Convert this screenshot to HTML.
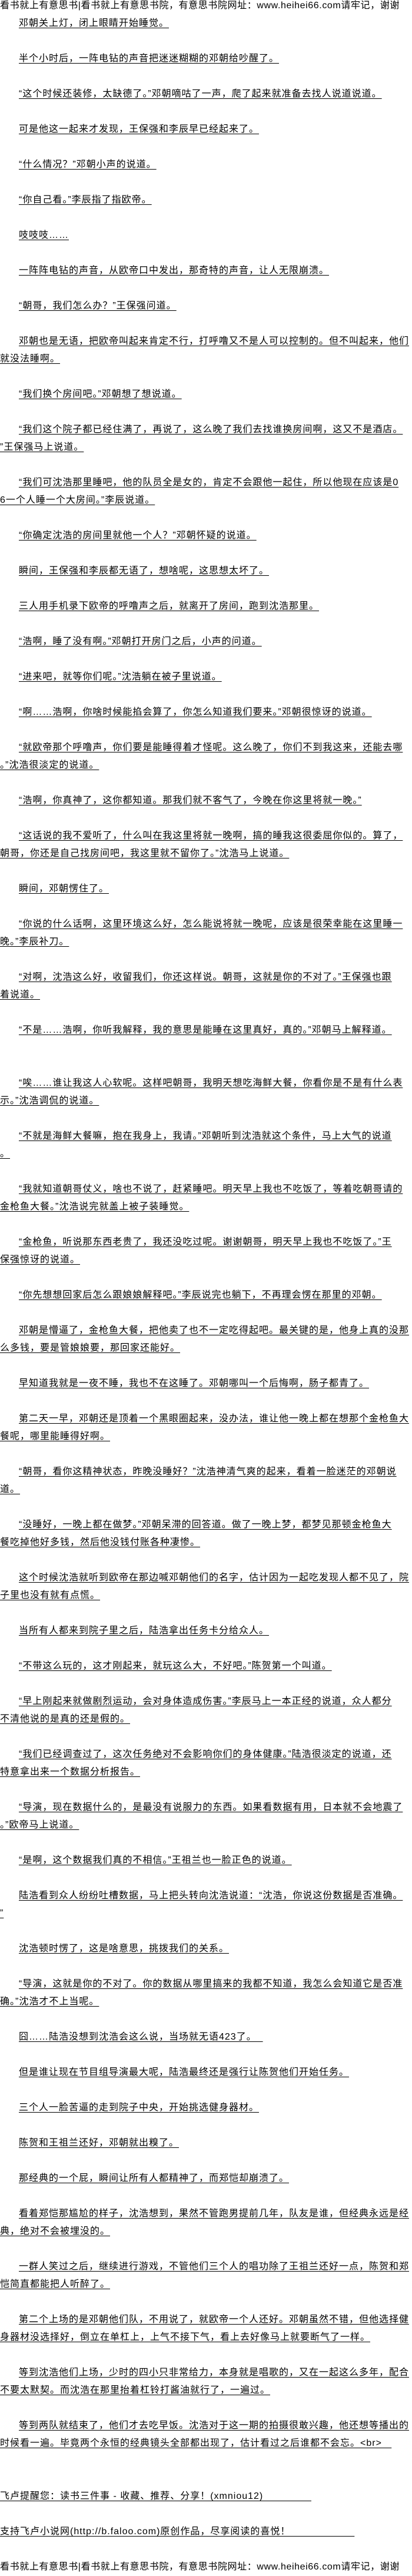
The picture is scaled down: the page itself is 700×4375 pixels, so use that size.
<!DOCTYPE html>
<html><head><meta charset="utf-8">
<style>
html,body{margin:0;padding:0;background:#fff;}
body{width:700px;height:4370px;position:relative;overflow:hidden;
font-family:"Liberation Sans","Noto Sans CJK SC","WenQuanYi Zen Hei",sans-serif;font-size:16px;color:#000;}
.l{position:absolute;left:0;height:30px;line-height:30px;white-space:nowrap;letter-spacing:1.0px;}
.l span{text-decoration:underline;text-underline-offset:3px;text-decoration-thickness:1px;}
.i{left:32px;}
.h{letter-spacing:0.6px;}
</style></head><body>
<div class="l h" style="top:-5px">看书就上有意思书|看书就上有意思书院，有意思书院网址：www.heihei66.com请牢记，谢谢</div>
<div class="l i" style="top:25px"><span>邓朝关上灯，闭上眼睛开始睡觉。</span></div>
<div class="l i" style="top:85px"><span>半个小时后，一阵电钻的声音把迷迷糊糊的邓朝给吵醒了。</span></div>
<div class="l i" style="top:145px"><span>“这个时候还装修，太缺德了。”邓朝嘀咕了一声，爬了起来就准备去找人说道说道。</span></div>
<div class="l i" style="top:205px"><span>可是他这一起来才发现，王保强和李辰早已经起来了。</span></div>
<div class="l i" style="top:265px"><span>“什么情况？”邓朝小声的说道。</span></div>
<div class="l i" style="top:325px"><span>“你自己看。”李辰指了指欧帝。</span></div>
<div class="l i" style="top:385px"><span>吱吱吱……</span></div>
<div class="l i" style="top:445px"><span>一阵阵电钻的声音，从欧帝口中发出，那奇特的声音，让人无限崩溃。</span></div>
<div class="l i" style="top:505px"><span>“朝哥，我们怎么办？”王保强问道。</span></div>
<div class="l i" style="top:565px"><span>邓朝也是无语，把欧帝叫起来肯定不行，打呼噜又不是人可以控制的。但不叫起来，他们</span></div>
<div class="l" style="top:595px"><span>就没法睡啊。</span></div>
<div class="l i" style="top:655px"><span>“我们换个房间吧。”邓朝想了想说道。</span></div>
<div class="l i" style="top:715px"><span>“我们这个院子都已经住满了，再说了，这么晚了我们去找谁换房间啊，这又不是酒店。</span></div>
<div class="l" style="top:745px"><span>”王保强马上说道。</span></div>
<div class="l i" style="top:805px"><span>“我们可沈浩那里睡吧，他的队员全是女的，肯定不会跟他一起住，所以他现在应该是0</span></div>
<div class="l" style="top:835px"><span>6一个人睡一个大房间。”李辰说道。</span></div>
<div class="l i" style="top:895px"><span>“你确定沈浩的房间里就他一个人？”邓朝怀疑的说道。</span></div>
<div class="l i" style="top:955px"><span>瞬间，王保强和李辰都无语了，想啥呢，这思想太坏了。</span></div>
<div class="l i" style="top:1015px"><span>三人用手机录下欧帝的呼噜声之后，就离开了房间，跑到沈浩那里。</span></div>
<div class="l i" style="top:1075px"><span>“浩啊，睡了没有啊。”邓朝打开房门之后，小声的问道。</span></div>
<div class="l i" style="top:1135px"><span>“进来吧，就等你们呢。”沈浩躺在被子里说道。</span></div>
<div class="l i" style="top:1195px"><span>“啊……浩啊，你啥时候能掐会算了，你怎么知道我们要来。”邓朝很惊讶的说道。</span></div>
<div class="l i" style="top:1255px"><span>“就欧帝那个呼噜声，你们要是能睡得着才怪呢。这么晚了，你们不到我这来，还能去哪</span></div>
<div class="l" style="top:1285px"><span>。”沈浩很淡定的说道。</span></div>
<div class="l i" style="top:1345px"><span>“浩啊，你真神了，这你都知道。那我们就不客气了，今晚在你这里将就一晚。”</span></div>
<div class="l i" style="top:1405px"><span>“这话说的我不爱听了，什么叫在我这里将就一晚啊，搞的睡我这很委屈你似的。算了，</span></div>
<div class="l" style="top:1435px"><span>朝哥，你还是自己找房间吧，我这里就不留你了。”沈浩马上说道。</span></div>
<div class="l i" style="top:1495px"><span>瞬间，邓朝愣住了。</span></div>
<div class="l i" style="top:1555px"><span>“你说的什么话啊，这里环境这么好，怎么能说将就一晚呢，应该是很荣幸能在这里睡一</span></div>
<div class="l" style="top:1585px"><span>晚。”李辰补刀。</span></div>
<div class="l i" style="top:1645px"><span>“对啊，沈浩这么好，收留我们，你还这样说。朝哥，这就是你的不对了。”王保强也跟</span></div>
<div class="l" style="top:1675px"><span>着说道。</span></div>
<div class="l i" style="top:1735px"><span>“不是……浩啊，你听我解释，我的意思是能睡在这里真好，真的。”邓朝马上解释道。</span></div>
<div class="l i" style="top:1825px"><span>“唉……谁让我这人心软呢。这样吧朝哥，我明天想吃海鲜大餐，你看你是不是有什么表</span></div>
<div class="l" style="top:1855px"><span>示。”沈浩调侃的说道。</span></div>
<div class="l i" style="top:1915px"><span>“不就是海鲜大餐嘛，抱在我身上，我请。”邓朝听到沈浩就这个条件，马上大气的说道</span></div>
<div class="l" style="top:1945px"><span>。</span></div>
<div class="l i" style="top:2005px"><span>“我就知道朝哥仗义，啥也不说了，赶紧睡吧。明天早上我也不吃饭了，等着吃朝哥请的</span></div>
<div class="l" style="top:2035px"><span>金枪鱼大餐。”沈浩说完就盖上被子装睡觉。</span></div>
<div class="l i" style="top:2095px"><span>“金枪鱼，听说那东西老贵了，我还没吃过呢。谢谢朝哥，明天早上我也不吃饭了。”王</span></div>
<div class="l" style="top:2125px"><span>保强惊讶的说道。</span></div>
<div class="l i" style="top:2185px"><span>“你先想想回家后怎么跟娘娘解释吧。”李辰说完也躺下，不再理会愣在那里的邓朝。</span></div>
<div class="l i" style="top:2245px"><span>邓朝是懵逼了，金枪鱼大餐，把他卖了也不一定吃得起吧。最关键的是，他身上真的没那</span></div>
<div class="l" style="top:2275px"><span>么多钱，要是管娘娘要，那回家还能好。</span></div>
<div class="l i" style="top:2335px"><span>早知道我就是一夜不睡，我也不在这睡了。邓朝哪叫一个后悔啊，肠子都青了。</span></div>
<div class="l i" style="top:2395px"><span>第二天一早，邓朝还是顶着一个黑眼圈起来，没办法，谁让他一晚上都在想那个金枪鱼大</span></div>
<div class="l" style="top:2425px"><span>餐呢，哪里能睡得好啊。</span></div>
<div class="l i" style="top:2485px"><span>“朝哥，看你这精神状态，昨晚没睡好？”沈浩神清气爽的起来，看着一脸迷茫的邓朝说</span></div>
<div class="l" style="top:2515px"><span>道。</span></div>
<div class="l i" style="top:2575px"><span>“没睡好，一晚上都在做梦。”邓朝呆滞的回答道。做了一晚上梦，都梦见那顿金枪鱼大</span></div>
<div class="l" style="top:2605px"><span>餐吃掉他好多钱，然后他没钱付账各种凄惨。</span></div>
<div class="l i" style="top:2665px"><span>这个时候沈浩就听到欧帝在那边喊邓朝他们的名字，估计因为一起吃发现人都不见了，院</span></div>
<div class="l" style="top:2695px"><span>子里也没有就有点慌。</span></div>
<div class="l i" style="top:2755px"><span>当所有人都来到院子里之后，陆浩拿出任务卡分给众人。</span></div>
<div class="l i" style="top:2815px"><span>“不带这么玩的，这才刚起来，就玩这么大，不好吧。”陈贺第一个叫道。</span></div>
<div class="l i" style="top:2875px"><span>“早上刚起来就做剧烈运动，会对身体造成伤害。”李辰马上一本正经的说道，众人都分</span></div>
<div class="l" style="top:2905px"><span>不清他说的是真的还是假的。</span></div>
<div class="l i" style="top:2965px"><span>“我们已经调查过了，这次任务绝对不会影响你们的身体健康。”陆浩很淡定的说道，还</span></div>
<div class="l" style="top:2995px"><span>特意拿出来一个数据分析报告。</span></div>
<div class="l i" style="top:3055px"><span>“导演，现在数据什么的，是最没有说服力的东西。如果看数据有用，日本就不会地震了</span></div>
<div class="l" style="top:3085px"><span>。”欧帝马上说道。</span></div>
<div class="l i" style="top:3145px"><span>“是啊，这个数据我们真的不相信。”王祖兰也一脸正色的说道。</span></div>
<div class="l i" style="top:3205px"><span>陆浩看到众人纷纷吐槽数据，马上把头转向沈浩说道：“沈浩，你说这份数据是否准确。</span></div>
<div class="l" style="top:3235px"><span>”</span></div>
<div class="l i" style="top:3295px"><span>沈浩顿时愣了，这是啥意思，挑拨我们的关系。</span></div>
<div class="l i" style="top:3355px"><span>“导演，这就是你的不对了。你的数据从哪里搞来的我都不知道，我怎么会知道它是否准</span></div>
<div class="l" style="top:3385px"><span>确。”沈浩才不上当呢。</span></div>
<div class="l i" style="top:3445px"><span>囧……陆浩没想到沈浩会这么说，当场就无语423了。&nbsp;&nbsp;</span></div>
<div class="l i" style="top:3505px"><span>但是谁让现在节目组导演最大呢，陆浩最终还是强行让陈贺他们开始任务。</span></div>
<div class="l i" style="top:3565px"><span>三个人一脸苦逼的走到院子中央，开始挑选健身器材。</span></div>
<div class="l i" style="top:3625px"><span>陈贺和王祖兰还好，邓朝就出糗了。</span></div>
<div class="l i" style="top:3685px"><span>那经典的一个屁，瞬间让所有人都精神了，而郑恺却崩溃了。</span></div>
<div class="l i" style="top:3745px"><span>看着郑恺那尴尬的样子，沈浩想到，果然不管跑男提前几年，队友是谁，但经典永远是经</span></div>
<div class="l" style="top:3775px"><span>典，绝对不会被埋没的。</span></div>
<div class="l i" style="top:3835px"><span>一群人笑过之后，继续进行游戏，不管他们三个人的唱功除了王祖兰还好一点，陈贺和郑</span></div>
<div class="l" style="top:3865px"><span>恺简直都能把人听醉了。</span></div>
<div class="l i" style="top:3925px"><span>第二个上场的是邓朝他们队，不用说了，就欧帝一个人还好。邓朝虽然不错，但他选择健</span></div>
<div class="l" style="top:3955px"><span>身器材没选择好，倒立在单杠上，上气不接下气，看上去好像马上就要断气了一样。</span></div>
<div class="l i" style="top:4015px"><span>等到沈浩他们上场，少时的四小只非常给力，本身就是唱歌的，又在一起这么多年，配合</span></div>
<div class="l" style="top:4045px"><span>不要太默契。而沈浩在那里抬着杠铃打酱油就行了，一遍过。</span></div>
<div class="l i" style="top:4105px"><span>等到两队就结束了，他们才去吃早饭。沈浩对于这一期的拍摄很敢兴趣，他还想等播出的</span></div>
<div class="l" style="top:4135px"><span>时候看一遍。毕竟两个永恒的经典镜头全部都出现了，估计看过之后谁都不会忘。&lt;br&gt;&nbsp;&nbsp;&nbsp;</span></div>
<div class="l" style="top:4225px"><span>飞卢提醒您：读书三件事 - 收藏、推荐、分享！(xmniou12)&nbsp;&nbsp;&nbsp;&nbsp;&nbsp;&nbsp;&nbsp;&nbsp;&nbsp;&nbsp;&nbsp;&nbsp;&nbsp;&nbsp;&nbsp;</span></div>
<div class="l" style="top:4285px"><span>支持飞卢小说网(http://b.faloo.com)原创作品，尽享阅读的喜悦！&nbsp;&nbsp;&nbsp;&nbsp;&nbsp;&nbsp;&nbsp;&nbsp;&nbsp;&nbsp;&nbsp;&nbsp;&nbsp;&nbsp;&nbsp;&nbsp;&nbsp;&nbsp;&nbsp;&nbsp;</span></div>
<div class="l h" style="top:4345px">看书就上有意思书|看书就上有意思书院，有意思书院网址：www.heihei66.com请牢记，谢谢</div>
</body></html>
